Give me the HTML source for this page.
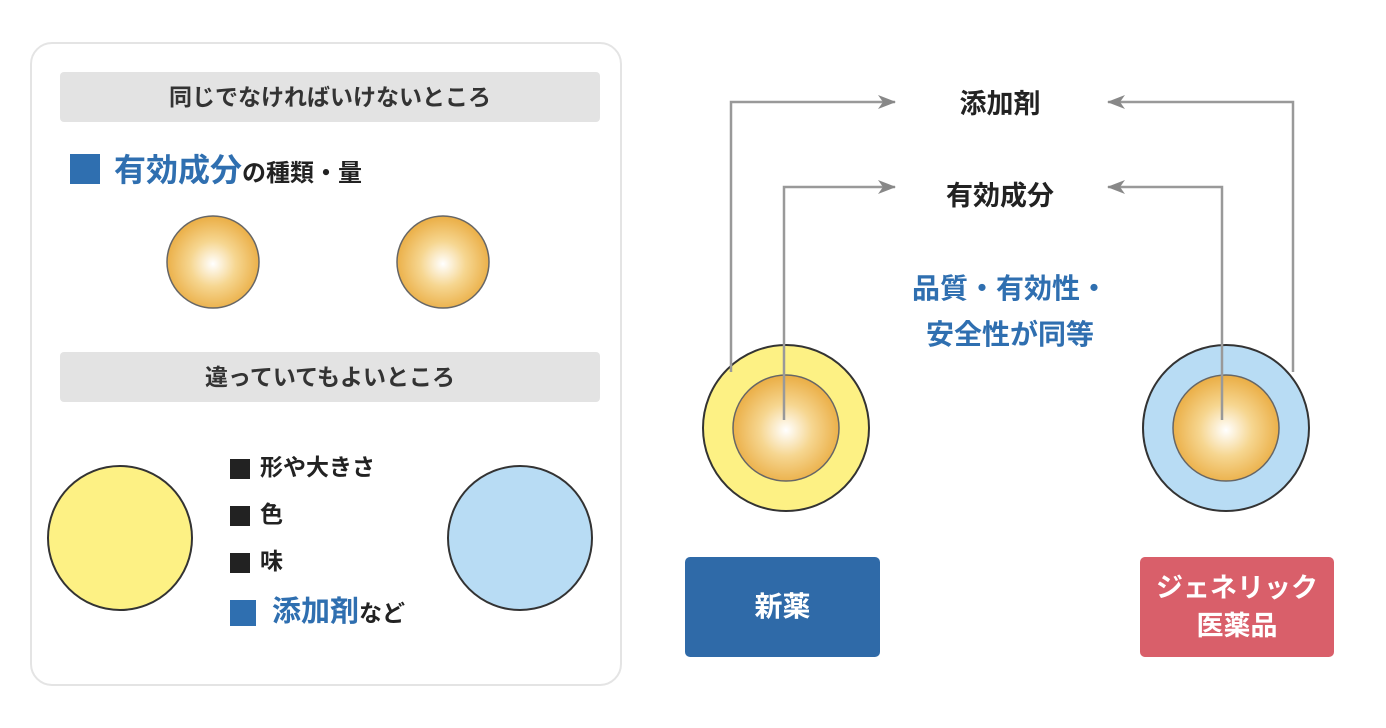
<!DOCTYPE html>
<html><head><meta charset="utf-8"><style>
body{margin:0;width:1386px;height:728px;background:#fff;position:relative;overflow:hidden;font-family:"Liberation Sans","Noto Sans CJK JP",sans-serif;font-weight:bold}
.a{position:absolute}
.panel{left:30px;top:42px;width:592px;height:644px;border:2px solid #e4e4e4;border-radius:22px;box-sizing:border-box}
.bar{left:60px;width:540px;height:50px;background:#e3e3e3;border-radius:4px;text-align:center;line-height:50px;font-size:23px;color:#333}
.t{white-space:nowrap}
.sq{display:inline-block;background:#222;vertical-align:middle}
</style></head><body>
<div class="a panel"></div>
<div class="a bar" style="top:72px">同じでなければいけないところ</div>
<div class="a bar" style="top:352px">違っていてもよいところ</div>
<div class="a t" style="left:70px;top:148px;font-size:32px;color:#2f6fb0;line-height:44px"><span style="display:inline-block;width:30px;height:30px;background:#2f6fb0;vertical-align:-3px;margin-right:14px"></span>有効成分<span style="font-size:24px;color:#222">の種類・量</span></div>
<div class="a t" style="left:230px;top:444px;font-size:23px;color:#222;line-height:47px">
<div><span class="sq" style="width:20px;height:20px;margin-right:10px"></span>形や大きさ</div>
<div><span class="sq" style="width:20px;height:20px;margin-right:10px"></span>色</div>
<div><span class="sq" style="width:20px;height:20px;margin-right:10px"></span>味</div>
<div style="font-size:29px;color:#2f6fb0;line-height:54px"><span class="sq" style="width:26px;height:26px;margin-right:16px;background:#2f6fb0"></span>添加剤<span style="font-size:23px;color:#222">など</span></div>
</div>
<svg class="a" style="left:0;top:0" width="1386" height="728">
<defs><radialGradient id="g" cx="50%" cy="52%" r="55%"><stop offset="0" stop-color="#fff"/><stop offset="0.45" stop-color="#f6d690"/><stop offset="1" stop-color="#e9a93c"/></radialGradient>
<marker id="m" markerWidth="18" markerHeight="16" refX="17" refY="8" orient="auto" markerUnits="userSpaceOnUse"><path d="M0,1 L18,8 L0,15 L5,8 z" fill="#888"/></marker></defs>
<circle cx="213" cy="262" r="46" fill="url(#g)" stroke="#666" stroke-width="1.5"/>
<circle cx="443" cy="262" r="46" fill="url(#g)" stroke="#666" stroke-width="1.5"/>
<circle cx="120" cy="538" r="72" fill="#fdf184" stroke="#333" stroke-width="2"/>
<circle cx="520" cy="538" r="72" fill="#b8dcf4" stroke="#333" stroke-width="2"/>
<circle cx="786" cy="428" r="83" fill="#fdf184" stroke="#333" stroke-width="2"/>
<circle cx="786" cy="428" r="53" fill="url(#g)" stroke="#666" stroke-width="1.5"/>
<circle cx="1226" cy="428" r="83" fill="#b8dcf4" stroke="#333" stroke-width="2"/>
<circle cx="1226" cy="428" r="53" fill="url(#g)" stroke="#666" stroke-width="1.5"/>
<g fill="none" stroke="#999" stroke-width="2.5">
<path d="M731 372 V102 H895" marker-end="url(#m)"/>
<path d="M784 420 V187 H895" marker-end="url(#m)"/>
<path d="M1293 372 V102 H1108" marker-end="url(#m)"/>
<path d="M1222 420 V187 H1108" marker-end="url(#m)"/>
</g>
</svg>
<div class="a t" style="left:900px;top:82px;width:200px;text-align:center;font-size:27px;color:#222">添加剤</div>
<div class="a t" style="left:900px;top:174px;width:200px;text-align:center;font-size:27px;color:#222">有効成分</div>
<div class="a t" style="left:880px;top:266px;width:260px;text-align:center;font-size:28px;color:#2f6fb0;line-height:46px">品質・有効性・<br>安全性が同等</div>
<div class="a" style="left:685px;top:557px;width:195px;height:100px;background:#2f6aa8;border-radius:5px;color:#fff;font-size:28px;text-align:center;line-height:100px">新薬</div>
<div class="a" style="left:1140px;top:557px;width:194px;height:100px;background:#d95f6a;border-radius:5px;color:#fff;font-size:27px;text-align:center;line-height:38px;padding-top:12px;box-sizing:border-box">ジェネリック<br>医薬品</div>
</body></html>
